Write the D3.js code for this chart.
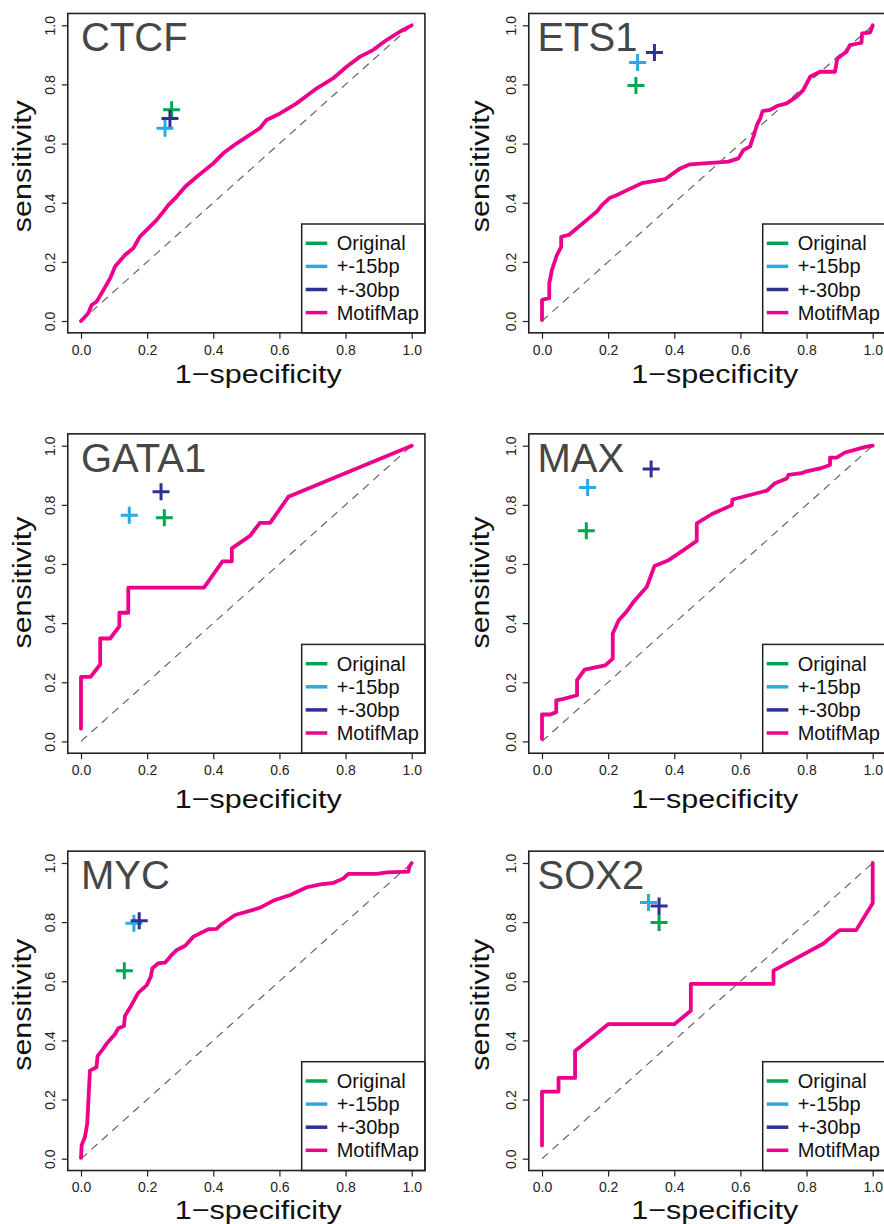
<!DOCTYPE html>
<html>
<head>
<meta charset="utf-8">
<script src="https://cdn.jsdelivr.net/npm/d3@7"></script>
<style>
body { margin: 0; background: #fff; }
svg { display: block; font-family: "Liberation Sans", Arial, sans-serif; }
</style>
</head>
<body>
<div id="chart"></div>
<script>
let panelNames = ["CTCF", "ETS1", "GATA1", "MAX", "MYC", "SOX2"];
let seriesNames = ["Original", "+-15bp", "+-30bp", "MotifMap"];
let seriesColors = ["#00a651", "#29abe2", "#2e3192", "#ec008c"];
let tickValues = [0, 0.2, 0.4, 0.6, 0.8, 1.0];
let tickLabels = ["0.0", "0.2", "0.4", "0.6", "0.8", "1.0"];

// single (1-specificity, sensitivity) points, one per panel
let originalPts = [[0.274, 0.714], [0.284, 0.796], [0.252, 0.756], [0.134, 0.712], [0.131, 0.636], [0.354, 0.799]];
let bp15Pts = [[0.254, 0.652], [0.289, 0.874], [0.146, 0.765], [0.138, 0.859], [0.160, 0.796], [0.322, 0.866]];
let bp30Pts = [[0.269, 0.685], [0.340, 0.908], [0.242, 0.844], [0.330, 0.921], [0.176, 0.805], [0.354, 0.855]];

// MotifMap ROC curves
let ctcfRoc = [[0,0],[0.022,0.026],[0.032,0.054],[0.047,0.065],[0.068,0.105],[0.088,0.144],[0.103,0.184],
	[0.133,0.223],[0.158,0.246],[0.178,0.285],[0.199,0.308],[0.229,0.342],[0.249,0.370],[0.264,0.392],
	[0.289,0.420],[0.315,0.454],[0.350,0.488],[0.400,0.533],[0.430,0.567],[0.471,0.601],[0.541,0.652],
	[0.561,0.680],[0.602,0.702],[0.652,0.736],[0.693,0.770],[0.713,0.787],[0.763,0.821],[0.803,0.860],
	[0.844,0.894],[0.884,0.917],[0.924,0.950],[0.965,0.979],[1,1]];
let ets1Roc = [[0,0.003],[0,0.071],[0.005,0.073],[0.022,0.077],[0.022,0.127],[0.030,0.172],[0.045,0.223],
	[0.058,0.251],[0.058,0.285],[0.081,0.291],[0.111,0.319],[0.141,0.347],[0.166,0.370],[0.181,0.392],
	[0.206,0.417],[0.227,0.426],[0.262,0.445],[0.302,0.466],[0.373,0.480],[0.418,0.516],[0.448,0.530],
	[0.564,0.539],[0.594,0.550],[0.609,0.578],[0.629,0.590],[0.639,0.623],[0.650,0.663],[0.660,0.685],
	[0.667,0.710],[0.690,0.714],[0.710,0.727],[0.740,0.736],[0.770,0.759],[0.790,0.781],[0.811,0.826],
	[0.841,0.843],[0.886,0.843],[0.893,0.888],[0.921,0.911],[0.931,0.933],[0.966,0.941],[0.968,0.973],
	[0.991,0.975],[0.995,0.984],[1,1]];
let gata1Roc = [[0,0.043],[0,0.218],[0.029,0.218],[0.058,0.260],[0.058,0.348],[0.088,0.348],[0.116,0.389],
	[0.116,0.435],[0.143,0.435],[0.143,0.520],[0.372,0.520],[0.428,0.609],[0.456,0.609],[0.456,0.653],
	[0.511,0.695],[0.541,0.739],[0.572,0.739],[0.627,0.827],[1,1]];
let maxRoc = [[0,0.009],[0,0.091],[0.025,0.091],[0.043,0.099],[0.043,0.139],[0.065,0.144],[0.106,0.156],
	[0.106,0.207],[0.129,0.243],[0.191,0.257],[0.214,0.280],[0.214,0.365],[0.232,0.410],[0.255,0.438],
	[0.277,0.472],[0.317,0.523],[0.340,0.593],[0.383,0.613],[0.428,0.647],[0.468,0.678],[0.468,0.737],
	[0.514,0.769],[0.574,0.799],[0.576,0.818],[0.680,0.848],[0.703,0.872],[0.740,0.889],[0.745,0.901],
	[0.785,0.907],[0.796,0.912],[0.841,0.923],[0.871,0.935],[0.871,0.960],[0.891,0.960],[0.916,0.977],
	[0.962,0.991],[0.982,0.997],[1,1]];
let mycRoc = [[0,0.003],[0.002,0.046],[0.012,0.074],[0.019,0.120],[0.023,0.210],[0.027,0.298],[0.047,0.309],
	[0.050,0.347],[0.068,0.373],[0.078,0.390],[0.103,0.422],[0.113,0.441],[0.130,0.449],[0.133,0.483],
	[0.153,0.520],[0.173,0.561],[0.199,0.587],[0.211,0.616],[0.216,0.644],[0.234,0.661],[0.254,0.663],
	[0.274,0.689],[0.290,0.706],[0.315,0.720],[0.340,0.751],[0.385,0.776],[0.410,0.777],[0.425,0.793],
	[0.466,0.824],[0.542,0.849],[0.582,0.873],[0.633,0.892],[0.683,0.918],[0.724,0.928],[0.764,0.933],
	[0.794,0.948],[0.808,0.963],[0.894,0.963],[0.925,0.968],[0.990,0.971],[0.993,0.988],[1,1]];
let sox2Roc = [[0,0.045],[0,0.227],[0.05,0.227],[0.05,0.273],[0.10,0.273],[0.10,0.364],[0.20,0.455],
	[0.40,0.455],[0.45,0.500],[0.45,0.591],[0.70,0.591],[0.70,0.636],[0.85,0.727],[0.90,0.773],
	[0.95,0.773],[1,0.864],[1,1]];
let rocCurves = [ctcfRoc, ets1Roc, gata1Roc, maxRoc, mycRoc, sox2Roc];

// page layout
let width = 884, height = 1224;
let colX = [81, 542], plotW = 330.7;
let rowY = [25.3, 445.7, 863], plotH = 295.7;
let xlabDx = [12, 7.5], xlabDy = [50, 55, 48.5];
let ylabDx = [-50, -53.5], ylabDy = [-7, -11, -6];
let titleDx = [0, -4.5];

let svg = d3.select("#chart").append("svg")
	.attr("width", width)
	.attr("height", height);

panelNames.forEach(function(name, i) {
	let col = i % 2, row = Math.floor(i / 2);
	let x = d3.scaleLinear().domain([0, 1]).range([colX[col], colX[col] + plotW]);
	let y = d3.scaleLinear().domain([0, 1]).range([rowY[row] + plotH, rowY[row]]);
	let g = svg.append("g");

	let bx0 = x(-0.04), bx1 = x(1.04), by0 = y(1.04), by1 = y(-0.04);

	// axes (ticks hang outside the box)
	g.append("g")
		.attr("transform", "translate(0," + by1 + ")")
		.call(d3.axisBottom(x).tickValues(tickValues).tickFormat(function(d, k){ return tickLabels[k]; })
			.tickSize(6).tickSizeOuter(0))
		.call(function(a) {
			a.select(".domain").remove();
			a.selectAll("line").attr("stroke", "#222").attr("stroke-width", 1.2);
			a.selectAll("text").attr("font-size", 14).attr("fill", "#222")
				.attr("font-family", "Liberation Sans, Arial, sans-serif")
				.attr("dy", null).attr("y", 21.8);
		});
	g.append("g")
		.attr("transform", "translate(" + bx0 + ",0)")
		.call(d3.axisLeft(y).tickValues(tickValues).tickFormat(function(d, k){ return tickLabels[k]; })
			.tickSize(6).tickSizeOuter(0))
		.call(function(a) {
			a.select(".domain").remove();
			a.selectAll("line").attr("stroke", "#222").attr("stroke-width", 1.2);
			a.selectAll("text").attr("font-size", 14).attr("fill", "#222")
				.attr("font-family", "Liberation Sans, Arial, sans-serif")
				.attr("x", null).attr("dy", null).attr("text-anchor", "middle")
				.attr("transform", "translate(-12.8,0) rotate(-90)");
		});

	// diagonal reference
	g.append("line")
		.attr("x1", x(0)).attr("y1", y(0))
		.attr("x2", x(1)).attr("y2", y(1))
		.attr("stroke", "#666")
		.attr("stroke-width", 1.2)
		.attr("stroke-dasharray", "8,6");

	// MotifMap curve
	let line = d3.line()
		.x(function(d){ return x(d[0]); })
		.y(function(d){ return y(d[1]); });
	g.append("path")
		.datum(rocCurves[i])
		.attr("d", line)
		.attr("fill", "none")
		.attr("stroke", seriesColors[3])
		.attr("stroke-width", 3.8)
		.attr("stroke-linejoin", "round")
		.attr("stroke-linecap", "round");

	// single-point results
	[originalPts, bp15Pts, bp30Pts].forEach(function(pts, k) {
		g.append("path")
			.attr("transform", "translate(" + x(pts[i][0]) + "," + y(pts[i][1]) + ")")
			.attr("d", "M-8.5,0H8.5M0,-8.5V8.5")
			.attr("stroke", seriesColors[k])
			.attr("stroke-width", 3);
	});

	// title
	g.append("text")
		.attr("x", x(0) + titleDx[col])
		.attr("y", y(1) + 26)
		.attr("font-size", 40)
		.attr("fill", "#464646")
		.text(name);

	// legend
	let lx = x(0) + 220.7, ly = y(0) - 97;
	let leg = g.append("g");
	leg.append("rect")
		.attr("x", lx).attr("y", ly)
		.attr("width", bx1 - lx).attr("height", by1 - ly)
		.attr("fill", "#fff")
		.attr("stroke", "#222")
		.attr("stroke-width", 1.5);
	seriesNames.forEach(function(s, k) {
		let ry = ly + 19.3 + k * 23.1;
		leg.append("line")
			.attr("x1", lx + 4).attr("x2", lx + 25.6)
			.attr("y1", ry).attr("y2", ry)
			.attr("stroke", seriesColors[k])
			.attr("stroke-width", 3.5);
		leg.append("text")
			.attr("x", lx + 35)
			.attr("y", ry + 7)
			.attr("font-size", 20)
			.attr("fill", "#111")
			.text(s);
	});

	// box
	g.append("rect")
		.attr("x", bx0).attr("y", by0)
		.attr("width", bx1 - bx0).attr("height", by1 - by0)
		.attr("fill", "none")
		.attr("stroke", "#222")
		.attr("stroke-width", 1.6);

	// axis titles
	let cx = (x(0) + x(1)) / 2, cy = (y(0) + y(1)) / 2;
	g.append("text")
		.attr("x", cx + xlabDx[col])
		.attr("y", by1 + xlabDy[row])
		.attr("text-anchor", "middle")
		.attr("font-size", 26)
		.attr("textLength", 167)
		.attr("lengthAdjust", "spacingAndGlyphs")
		.attr("fill", "#111")
		.text("1\u2212specificity");
	g.append("text")
		.attr("transform", "translate(" + (x(0) + ylabDx[col]) + "," + (cy + ylabDy[row]) + ") rotate(-90)")
		.attr("text-anchor", "middle")
		.attr("font-size", 26)
		.attr("textLength", 132)
		.attr("lengthAdjust", "spacingAndGlyphs")
		.attr("fill", "#111")
		.text("sensitivity");
});
</script>
</body>
</html>
